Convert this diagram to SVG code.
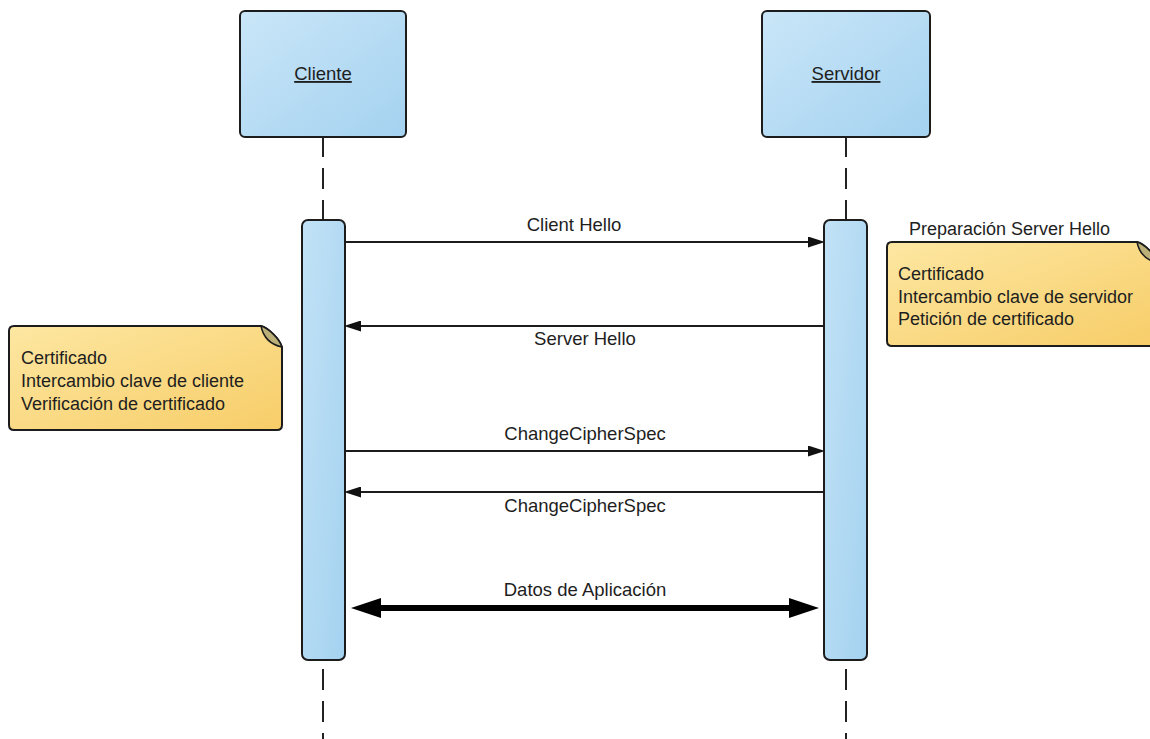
<svg xmlns="http://www.w3.org/2000/svg" width="1150" height="739" viewBox="0 0 1150 739">
  <style>
    text { font-family: "Liberation Sans", Arial, sans-serif; fill: #1e1e1e; }
    .msg { font-size: 18.5px; text-anchor: middle; }
    .head { font-size: 18.5px; text-anchor: middle; text-decoration: underline; }
    .note-text { font-size: 18px; }
    .box { fill: url(#blueGrad); stroke: #1c1c1c; stroke-width: 2; }
    .bar { fill: url(#barGrad); stroke: #1c1c1c; stroke-width: 2; }
    .note { fill: url(#noteGrad); stroke: #1c1c1c; stroke-width: 2; }
    .fold { fill: #bcb079; stroke: #1c1c1c; stroke-width: 1.5; stroke-linejoin: round; }
    .lifeline { stroke: #222; stroke-width: 2; stroke-dasharray: 21 11; fill: none; }
    .msgline { stroke: #1c1c1c; stroke-width: 2; fill: none; marker-end: url(#arrow); }
    .bidi { stroke: #000; stroke-width: 6; fill: none; marker-start: url(#bigArrow); marker-end: url(#bigArrow); }
  </style>
  <defs>
    <linearGradient id="blueGrad" x1="0" y1="0" x2="1" y2="1">
      <stop offset="0" stop-color="#cae6f8"/>
      <stop offset="1" stop-color="#a4d2f0"/>
    </linearGradient>
    <linearGradient id="barGrad" x1="0" y1="0" x2="1" y2="1">
      <stop offset="0" stop-color="#c2e2f6"/>
      <stop offset="1" stop-color="#a4d2f0"/>
    </linearGradient>
    <linearGradient id="noteGrad" x1="0" y1="0" x2="1" y2="1">
      <stop offset="0" stop-color="#fde7a2"/>
      <stop offset="1" stop-color="#f7cd68"/>
    </linearGradient>
    <marker id="arrow" viewBox="0 0 17 11" refX="8" refY="5.5" markerWidth="17" markerHeight="11" markerUnits="userSpaceOnUse" orient="auto">
      <path d="M0,0 L17,5.5 L0,11 Z" fill="#111"/>
    </marker>
    <marker id="bigArrow" viewBox="0 0 30 20" refX="14" refY="10" markerWidth="30" markerHeight="20" markerUnits="userSpaceOnUse" orient="auto-start-reverse">
      <path d="M0,0 L30,10 L0,20 Z" fill="#000"/>
    </marker>
  </defs>

  <!-- lifelines -->
  <g id="lifelines">
    <line class="lifeline" x1="323" y1="136" x2="323" y2="220"/>
    <line class="lifeline" x1="323" y1="669" x2="323" y2="739"/>
    <line class="lifeline" x1="846" y1="136" x2="846" y2="220"/>
    <line class="lifeline" x1="846" y1="669" x2="846" y2="739"/>
  </g>

  <!-- participants -->
  <g id="cliente">
    <rect class="box" x="240" y="11" width="166" height="126" rx="5"/>
    <text class="head" x="323" y="80">Cliente</text>
  </g>
  <g id="servidor">
    <rect class="box" x="762" y="11" width="168" height="126" rx="5"/>
    <text class="head" x="846" y="80">Servidor</text>
  </g>

  <!-- activation bars -->
  <g id="cliente-activation">
    <rect class="bar" x="302" y="220" width="43" height="440" rx="6"/>
  </g>
  <g id="servidor-activation">
    <rect class="bar" x="824" y="220" width="43" height="440" rx="6"/>
  </g>

  <!-- notes -->
  <g id="nota-cliente">
    <path class="note" d="M14,326 H261 C268,328 279,338 282,347 V425 Q282,430 277,430 H14 Q9,430 9,425 V331 Q9,326 14,326 Z"/>
    <path class="fold" d="M261,326 C263,336 268,344 282,347 C279,338 268,328 261,326 Z"/>
    <text class="note-text" x="21" y="364">Certificado</text>
    <text class="note-text" x="21" y="387">Intercambio clave de cliente</text>
    <text class="note-text" x="21" y="410">Verificación de certificado</text>
  </g>
  <g id="nota-servidor">
    <text class="note-text" x="909" y="235">Preparación Server Hello</text>
    <path class="note" d="M892,242 H1137 C1144,244 1155,254 1158,263 V341 Q1158,346 1153,346 H892 Q887,346 887,341 V247 Q887,242 892,242 Z"/>
    <path class="fold" d="M1137,242 C1139,252 1144,260 1158,263 C1155,254 1144,244 1137,242 Z"/>
    <text class="note-text" x="898" y="280">Certificado</text>
    <text class="note-text" x="898" y="303">Intercambio clave de servidor</text>
    <text class="note-text" x="898" y="325">Petición de certificado</text>
  </g>

  <!-- messages -->
  <g id="connectors">
    <line class="msgline" x1="345" y1="242" x2="816" y2="242"/>
    <line class="msgline" x1="824" y1="326" x2="353" y2="326"/>
    <line class="msgline" x1="345" y1="451" x2="816" y2="451"/>
    <line class="msgline" x1="824" y1="492" x2="353" y2="492"/>
    <line class="bidi" x1="367" y1="608" x2="803" y2="608"/>
  </g>
  <g id="labels">
    <text class="msg" x="574" y="231">Client Hello</text>
    <text class="msg" x="585" y="345">Server Hello</text>
    <text class="msg" x="585" y="440">ChangeCipherSpec</text>
    <text class="msg" x="585" y="512">ChangeCipherSpec</text>
    <text class="msg" x="585" y="596">Datos de Aplicación</text>
  </g>
</svg>
